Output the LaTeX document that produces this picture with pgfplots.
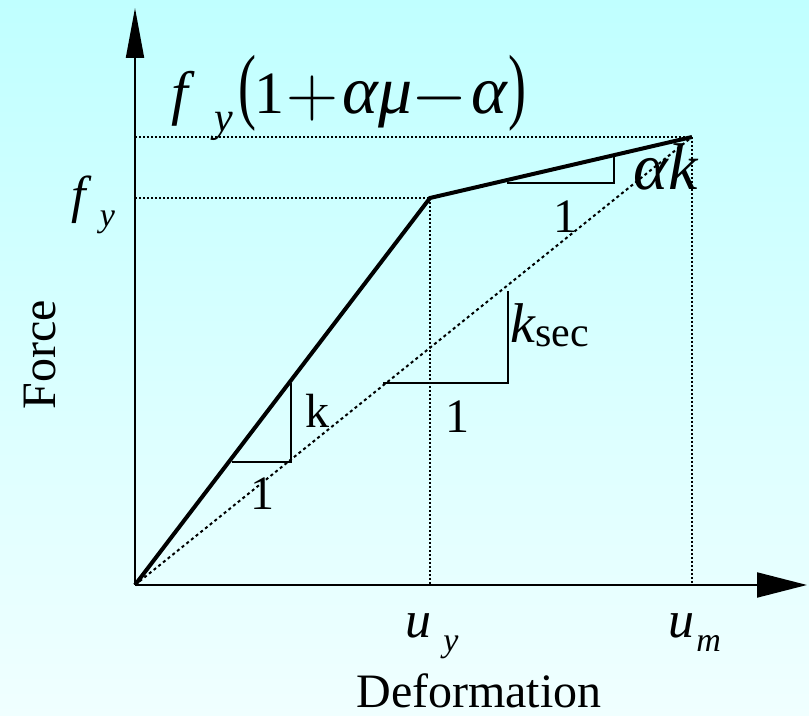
\documentclass[border=0pt]{standalone}
\usepackage{fontspec}
\setmainfont{Liberation Serif}
\usepackage{graphicx}
\usepackage{pgfplots}
\pgfplotsset{compat=1.18}
\usetikzlibrary{arrows.meta}
\definecolor{bgtop}{RGB}{192,255,255}
\definecolor{bgbot}{RGB}{240,255,255}

% sizes: one data unit = one pixel of the reference, half a point here
\newcommand{\fs}[1]{\fontsize{#1}{#1}\selectfont}
\newcommand{\bigop}[1]{\raisebox{-1.5pt}{\scalebox{1.45}{$\mathsurround=0pt#1$}}}

\begin{document}
\begin{tikzpicture}
\begin{axis}[
    x=0.5pt, y=0.5pt,
    xmin=-135, xmax=674, ymin=-131, ymax=585,
    axis line style={draw=none},
    ticks=none,
    clip=false,
    axis background/.style={top color=bgtop, bottom color=bgbot},
]
% axes
\addplot[line width=1pt, -{Triangle[length=25pt, width=12.5pt]}] coordinates {(0,0) (672,0)};
\addplot[line width=1pt, -{Triangle[length=25pt, width=9pt]}] coordinates {(0,0) (0,577)};

% guide lines
\addplot[line width=1pt, dash pattern=on 1pt off 1pt] coordinates {(0,387) (295,387)};
\addplot[line width=1pt, dash pattern=on 1pt off 1pt] coordinates {(0,448) (557,448)};
\addplot[line width=1pt, dash pattern=on 1pt off 1pt] coordinates {(295,387) (295,0)};
\addplot[line width=1pt, dash pattern=on 1pt off 1pt] coordinates {(557,448) (557,0)};
\addplot[line width=1pt, dash pattern=on 1.5pt off 1.5pt] coordinates {(0,0) (557,448)};

% bilinear force-deformation curve
\addplot[line width=2pt, line join=miter] coordinates {(0,0) (295,387) (557,448)};

% slope triangles
\addplot[line width=1pt] coordinates {(97,123) (156,123) (156,202)};
\addplot[line width=1pt] coordinates {(248,202) (373,202) (373,294)};
\addplot[line width=1pt] coordinates {(372,402) (479,402) (479,431)};

% labels
\node[anchor=base west, inner sep=0pt] at (axis cs:36,471)
  {\fs{30}\itshape f\hspace{13pt}\raisebox{-9pt}{\fs{21}y}\hspace{3pt}\upshape\scalebox{0.9}[1.4]{(}\hspace{-1pt}1\hspace{1pt}\bigop{+}\hspace{2pt}{\fs{34}\itshape αμ}\hspace{-0.5pt}\bigop{-}\hspace{2pt}{\fs{34}\itshape α}\hspace{0.5pt}\upshape\scalebox{0.9}[1.4]{)}};
\node[anchor=base west, inner sep=0pt] at (axis cs:-64,372)
  {\fs{26}\itshape f\hspace{7pt}\raisebox{-7pt}{\fs{17}y}};
\node[anchor=base west, inner sep=0pt] at (axis cs:270,-53)
  {\fs{26}\itshape u\hspace{6pt}\raisebox{-7pt}{\fs{17}y}};
\node[anchor=base west, inner sep=0pt] at (axis cs:533,-53)
  {\fs{26}\itshape u\hspace{1pt}\raisebox{-7pt}{\fs{17}m}};
\node[anchor=base west, inner sep=0pt] at (axis cs:498,395) {\fs{33}\itshape αk};
\node[anchor=base, inner sep=0pt] at (axis cs:430,352) {\fs{24}1};
\node[anchor=base west, inner sep=0pt] at (axis cs:375,242)
  {\fs{28}\itshape k\upshape\raisebox{-2pt}{\fs{21}sec}};
\node[anchor=base, inner sep=0pt] at (axis cs:322,152) {\fs{24}1};
\node[anchor=base west, inner sep=0pt] at (axis cs:170,157) {\fs{24}k};
\node[anchor=base, inner sep=0pt] at (axis cs:127,75) {\fs{24}1};
\node[rotate=90, inner sep=0pt] at (axis cs:-95,230) {\fs{24}Force};
\node[inner sep=0pt] at (axis cs:344,-106) {\fs{24}Deformation};
\end{axis}
\end{tikzpicture}
\end{document}
